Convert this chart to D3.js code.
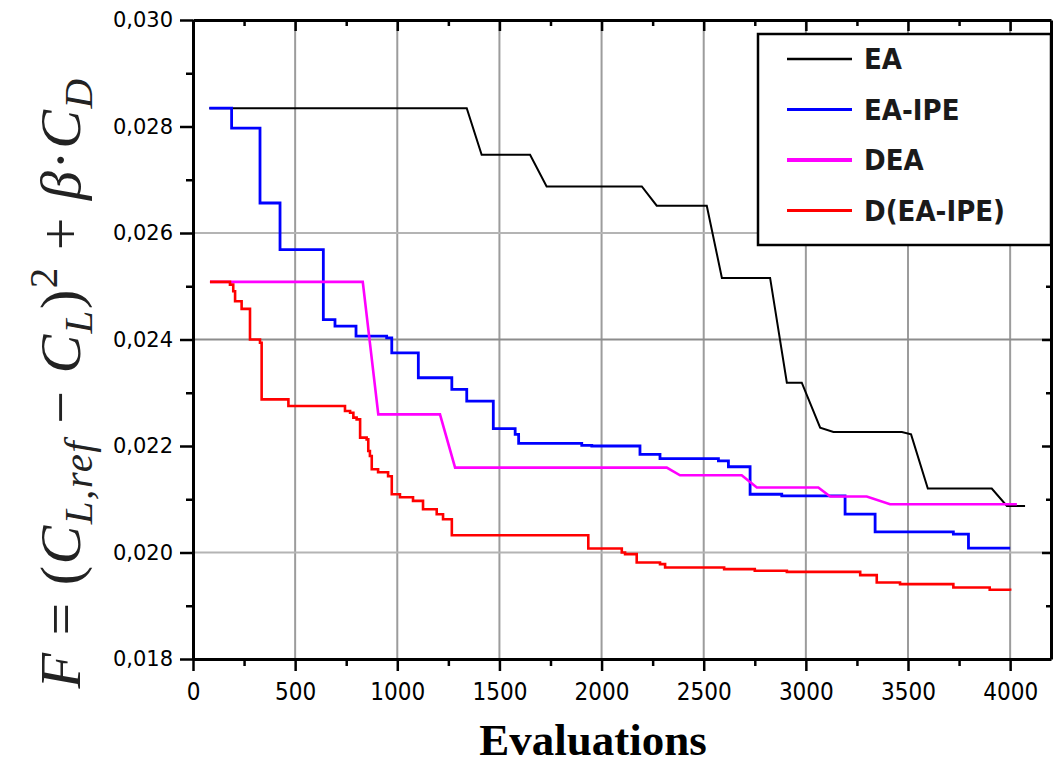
<!DOCTYPE html>
<html>
<head>
<meta charset="utf-8">
<script src="https://cdn.jsdelivr.net/npm/d3@7"></script>
<style>
  html, body { margin: 0; padding: 0; background: #fff; }
  svg { display: block; }
</style>
</head>
<body>
<svg id="chart" width="1053" height="768"></svg>
<script>
// ---------- data ----------
const seriesNames = ["EA", "EA-IPE", "DEA", "D(EA-IPE)"];
const seriesColors = ["#000000", "#0000ff", "#ff00ff", "#ff0000"];

// EA (black) – vertices of the polyline [evaluations, F]
const dataEA = [
  [80, 0.028344], [1340, 0.028344], [1413, 0.027469], [1650, 0.027469],
  [1731, 0.026874], [2197, 0.026874], [2270, 0.026512], [2515, 0.026512],
  [2589, 0.025156], [2825, 0.025156], [2907, 0.023188], [2980, 0.023188],
  [3070, 0.022344], [3135, 0.022262], [3470, 0.022262], [3515, 0.022219],
  [3597, 0.021201], [3910, 0.021201], [3984, 0.020875], [4073, 0.020875]
];

// EA-IPE (blue) – step points [evaluations where new best starts, F]
const dataEAIPE = [
  [80, 0.028344], [189, 0.027970], [328, 0.026563], [426, 0.025688],
  [638, 0.024375], [695, 0.024250], [798, 0.024062], [948, 0.024031],
  [973, 0.023750], [1103, 0.023282], [1267, 0.023063], [1340, 0.022844],
  [1470, 0.022326], [1577, 0.022219], [1594, 0.022050], [1903, 0.022013],
  [1952, 0.022000], [2188, 0.021844], [2286, 0.021763], [2572, 0.021719],
  [2621, 0.021610], [2727, 0.021094], [2882, 0.021063], [3192, 0.020719],
  [3339, 0.020388], [3722, 0.020344], [3796, 0.020081], [4000, 0.020081]
];

// DEA (magenta) – polyline vertices
const dataDEA = [
  [83, 0.025082], [831, 0.025082], [907, 0.022594], [1209, 0.022594],
  [1283, 0.021594], [2319, 0.021594], [2384, 0.021450], [2686, 0.021450],
  [2760, 0.021220], [3061, 0.021220], [3119, 0.021051], [3298, 0.021051],
  [3412, 0.020906], [4033, 0.020906]
];

// D(EA-IPE) (red) – step points
const dataDEAIPE = [
  [83, 0.025082], [181, 0.025031], [197, 0.024906], [206, 0.024719],
  [238, 0.024576], [279, 0.024000], [328, 0.023938], [336, 0.022875],
  [467, 0.022750], [744, 0.022656], [769, 0.022625], [785, 0.022532],
  [801, 0.022500], [818, 0.022157], [850, 0.022125], [858, 0.021906],
  [866, 0.021812], [875, 0.021563], [906, 0.021506], [955, 0.021431],
  [973, 0.021094], [1013, 0.021038], [1077, 0.020969], [1126, 0.020813],
  [1193, 0.020719], [1224, 0.020625], [1267, 0.020325], [1935, 0.020076],
  [2099, 0.020000], [2115, 0.019969], [2172, 0.019813], [2286, 0.019781],
  [2311, 0.019719], [2600, 0.019688], [2750, 0.019656], [2907, 0.019637],
  [3266, 0.019575], [3347, 0.019438], [3461, 0.019406], [3722, 0.019344],
  [3900, 0.019300], [4000, 0.019281]
];

const xMajorTicks = [0, 500, 1000, 1500, 2000, 2500, 3000, 3500, 4000];
const xTickLabels = ["0", "500", "1000", "1500", "2000", "2500", "3000", "3500", "4000"];
const xMinorTicks = [250, 750, 1250, 1750, 2250, 2750, 3250, 3750];
const yMajorTicks = [0.018, 0.020, 0.022, 0.024, 0.026, 0.028, 0.030];
const yMinorTicks = [0.019, 0.021, 0.023, 0.025, 0.027, 0.029];
const yTickLabels = ["0,018", "0,020", "0,022", "0,024", "0,026", "0,028", "0,030"];
const xGrid = [500, 1000, 1500, 2000, 2500, 3000, 3500, 4000];
const yGrid = [0.020, 0.024, 0.026];

// ---------- layout ----------
const svg = d3.select("#chart");
const mLeft = 193, mRight = 1051, mTop = 20, mBottom = 659;

const x = d3.scaleLinear().domain([0, 4200]).range([mLeft, mRight]);
const y = d3.scaleLinear().domain([0.018, 0.030]).range([mBottom, mTop]);

// grid
const grid = svg.append("g");
grid.selectAll("line.vg").data(xGrid).join("line").attr("class", "vg")
  .attr("x1", d => x(d)).attr("x2", d => x(d))
  .attr("y1", mTop).attr("y2", mBottom)
  .attr("stroke", "#9c9c9c").attr("stroke-width", 2);
grid.selectAll("line.hg").data(yGrid).join("line").attr("class", "hg")
  .attr("x1", mLeft).attr("x2", mRight)
  .attr("y1", d => y(d)).attr("y2", d => y(d))
  .attr("stroke", d => d === 0.024 ? "#8c8c8c" : "#b4b4b4").attr("stroke-width", 2);

// series
const seriesData = [dataEA, dataEAIPE, dataDEA, dataDEAIPE];
const curves = [d3.curveLinear, d3.curveStepAfter, d3.curveLinear, d3.curveStepAfter];
const widths = [2, 2.8, 2.6, 2.6];
seriesData.forEach((data, i) => {
  const line = d3.line().x(d => x(d[0])).y(d => y(d[1])).curve(curves[i]);
  svg.append("path").datum(data)
    .attr("d", line)
    .attr("fill", "none")
    .attr("stroke", seriesColors[i])
    .attr("stroke-width", widths[i])
    .attr("stroke-linejoin", "miter");
});

// axes
function styleAxis(g) {
  g.select(".domain").attr("stroke", "#000").attr("stroke-width", 3);
  g.selectAll(".tick line").attr("stroke", "#000").attr("stroke-width", 2.5);
}
// bottom
svg.append("g").attr("transform", `translate(0,${mBottom})`)
  .call(d3.axisBottom(x).tickValues(xMinorTicks).tickSize(7).tickFormat(""))
  .call(styleAxis).call(g => g.select(".domain").remove());
const bx = svg.append("g").attr("transform", `translate(0,${mBottom})`)
  .call(d3.axisBottom(x).tickValues(xMajorTicks).tickSize(12).tickPadding(12).tickSizeOuter(0)
    .tickFormat((d, i) => xTickLabels[i]))
  .call(styleAxis);
bx.selectAll("text")
  .attr("font-family", "'Liberation Sans Narrow', 'DejaVu Sans Condensed', 'Liberation Sans', sans-serif")
  .attr("font-size", 24).attr("fill", "#000");

// top
svg.append("g").attr("transform", `translate(0,${mTop})`)
  .call(d3.axisBottom(x).tickValues(xMinorTicks).tickSize(6).tickFormat(""))
  .call(styleAxis).call(g => g.select(".domain").remove());
svg.append("g").attr("transform", `translate(0,${mTop})`)
  .call(d3.axisBottom(x).tickValues(xMajorTicks).tickSize(11).tickFormat("").tickSizeOuter(0))
  .call(styleAxis);

// left
svg.append("g").attr("transform", `translate(${mLeft},0)`)
  .call(d3.axisLeft(y).tickValues(yMinorTicks).tickSize(7).tickFormat(""))
  .call(styleAxis).call(g => g.select(".domain").remove());
const ly = svg.append("g").attr("transform", `translate(${mLeft},0)`)
  .call(d3.axisLeft(y).tickValues(yMajorTicks).tickSize(13).tickPadding(7).tickSizeOuter(0)
    .tickFormat((d, i) => yTickLabels[i]))
  .call(styleAxis);
ly.selectAll("text")
  .attr("font-family", "'DejaVu Sans', sans-serif")
  .attr("font-size", 21).attr("fill", "#000");

// right
svg.append("g").attr("transform", `translate(${mRight},0)`)
  .call(d3.axisLeft(y).tickValues(yMinorTicks).tickSize(5).tickFormat(""))
  .call(styleAxis).call(g => g.select(".domain").remove());
svg.append("g").attr("transform", `translate(${mRight},0)`)
  .call(d3.axisLeft(y).tickValues(yMajorTicks).tickSize(9).tickFormat("").tickSizeOuter(0))
  .call(styleAxis);

// legend
const lg = svg.append("g");
lg.append("rect").attr("x", 758).attr("y", 34).attr("width", 293).attr("height", 211)
  .attr("fill", "#fff").attr("stroke", "#000").attr("stroke-width", 2.5);
const legendLineW = [2.5, 3, 4, 3];
seriesNames.forEach((name, i) => {
  const yy = 59 + i * 50.5;
  lg.append("line").attr("x1", 787).attr("x2", 852).attr("y1", yy).attr("y2", yy)
    .attr("stroke", seriesColors[i]).attr("stroke-width", legendLineW[i]);
  lg.append("text").attr("x", 864).attr("y", yy).attr("dy", "0.36em")
    .attr("font-family", "'Liberation Sans Narrow', 'DejaVu Sans Condensed', 'Liberation Sans', sans-serif")
    .attr("font-weight", "bold").attr("font-size", 29).attr("fill", "#1a1a1a")
    .text(name);
});

// x title
svg.append("text").attr("x", 593).attr("y", 755).attr("text-anchor", "middle")
  .attr("font-family", "'Liberation Serif', 'DejaVu Serif', serif")
  .attr("font-weight", "bold").attr("font-size", 45).attr("fill", "#000")
  .text("Evaluations");

// y title (formula)
const yt = svg.append("text")
  .attr("transform", "translate(80,383) rotate(-90)")
  .attr("text-anchor", "middle")
  .attr("font-family", "'Liberation Serif', 'DejaVu Serif', serif")
  .attr("font-size", 58).attr("letter-spacing", 1.5).attr("fill", "#222");
const parts = [
  {t: "F", it: true}, {t: " = ("}, {t: "C", it: true}, {t: "L,ref", it: true, sub: true},
  {t: " − "}, {t: "C", it: true}, {t: "L", it: true, sub: true}, {t: ")"},
  {t: "2", sup: true}, {t: " + "}, {t: "β", it: true}, {t: "·"}, {t: "C", it: true},
  {t: "D", it: true, sub: true}
];
let shift = 0;
parts.forEach(p => {
  const target = p.sub ? 12 : p.sup ? -23 : 0;
  yt.append("tspan").text(p.t)
    .attr("dy", target - shift)
    .attr("font-style", p.it ? "italic" : "normal")
    .attr("font-size", (p.sub || p.sup) ? 41 : 58);
  shift = target;
});
</script>
</body>
</html>
